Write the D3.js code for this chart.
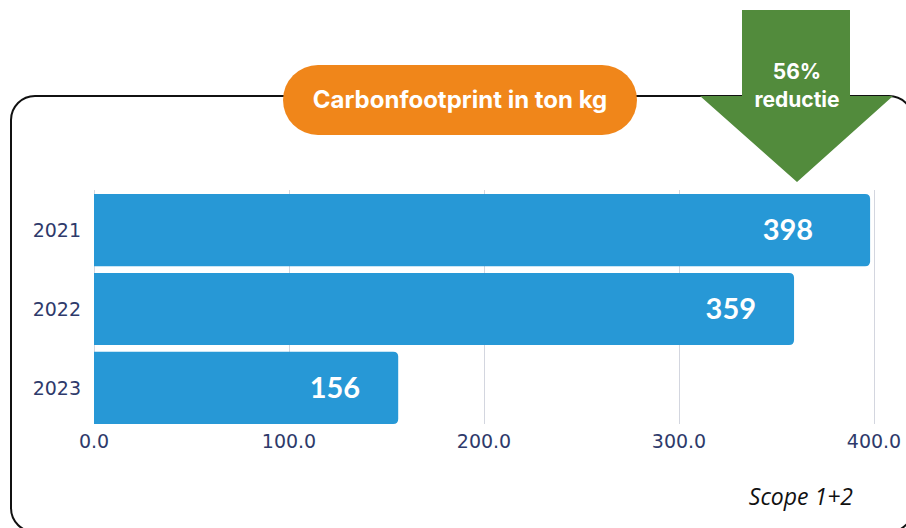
<html>
<head>
<style>
  body { margin: 0; background: #fff; font-family: "Open Sans", "Noto Sans", sans-serif; }
  svg { display: block; }
</style>
<script src="https://cdn.jsdelivr.net/npm/d3@7"></script>
</head>
<body>
<svg id="chart"></svg>
<script>
let years = ["2021", "2022", "2023"]
let values = [398, 359, 156]
let xTicks = [0, 100, 200, 300, 400]
let title = "Carbonfootprint in ton kg"
let arrowLines = ["56%", "reductie"]
let footnote = "Scope 1+2"

let width = 906, height = 528
let svg = d3.select("#chart").attr("width", width).attr("height", height)

let x = d3.scaleLinear().domain([0, 400]).range([94, 874])
let y = d3.scaleBand().domain(years).range([194, 424]).paddingInner(0.085).paddingOuter(0)

// frame
svg.append("rect")
  .attr("x", 11).attr("y", 96)
  .attr("width", 902).attr("height", 436)
  .attr("rx", 24)
  .attr("fill", "none")
  .attr("stroke", "#111").attr("stroke-width", 2)

// gridlines
svg.append("g").selectAll("line")
  .data(xTicks).enter().append("line")
  .attr("x1", d => x(d) + 0.5).attr("x2", d => x(d) + 0.5)
  .attr("y1", 190).attr("y2", 424)
  .attr("stroke", "#d3d6df").attr("stroke-width", 1)

// bars, right corners rounded
function barPath(x0, x1, y0, h, r) {
  return `M${x0},${y0} H${x1 - r} Q${x1},${y0} ${x1},${y0 + r} V${y0 + h - r} Q${x1},${y0 + h} ${x1 - r},${y0 + h} H${x0} Z`
}
let bars = svg.append("g").selectAll("g")
  .data(years).enter().append("g")

bars.append("path")
  .attr("d", (d, i) => barPath(x(0), x(values[i]), y(d), y.bandwidth(), 5))
  .attr("fill", "#2798d6")

bars.append("text")
  .attr("x", (d, i) => x(values[i]) - (i == 0 ? 57 : 38))   // first label sits clear of the arrow
  .attr("y", d => y(d) + y.bandwidth() / 2 + 10)
  .attr("text-anchor", "end")
  .attr("fill", "#fff")
  .attr("font-size", 29).attr("font-weight", 700)
  .attr("font-family", "Lato, 'Open Sans', sans-serif")
  .text((d, i) => values[i])

// y labels
svg.append("g").selectAll("text")
  .data(years).enter().append("text")
  .attr("x", 81)
  .attr("y", d => y(d) + y.bandwidth() / 2 + 7)
  .attr("text-anchor", "end")
  .attr("fill", "#2e3a6b")
  .attr("font-size", 19)
  .attr("font-family", "'DejaVu Sans', sans-serif")
  .text(d => d)

// x tick labels
svg.append("g").selectAll("text")
  .data(xTicks).enter().append("text")
  .attr("x", d => x(d))
  .attr("y", 448)
  .attr("text-anchor", "middle")
  .attr("fill", "#2e3a6b")
  .attr("font-size", 19)
  .attr("font-family", "'DejaVu Sans', sans-serif")
  .text(d => d3.format(".1f")(d))

// title pill
svg.append("rect")
  .attr("x", 283).attr("y", 65)
  .attr("width", 354).attr("height", 70)
  .attr("rx", 35)
  .attr("fill", "#f0861a")
svg.append("text")
  .attr("x", 460).attr("y", 108)
  .attr("text-anchor", "middle")
  .attr("fill", "#fff")
  .attr("font-size", 24).attr("font-weight", 700)
  .attr("font-family", "Inter, 'Open Sans', sans-serif")
  .text(title)

// reduction arrow
svg.append("path")
  .attr("d", "M742,10 H850 V96 H893 L797,182 L700,96 H742 Z")
  .attr("fill", "#528b3c")
svg.append("g").selectAll("text")
  .data(arrowLines).enter().append("text")
  .attr("x", 797)
  .attr("y", (d, i) => 79 + i * 28)
  .attr("text-anchor", "middle")
  .attr("fill", "#fff")
  .attr("font-size", 21).attr("font-weight", 700)
  .attr("font-family", "Inter, 'Open Sans', sans-serif")
  .text(d => d)

// footnote
svg.append("text")
  .attr("x", 853).attr("y", 505)
  .attr("text-anchor", "end")
  .attr("fill", "#111")
  .attr("font-size", 23).attr("font-style", "italic")
  .text(footnote)
</script>
</body>
</html>
